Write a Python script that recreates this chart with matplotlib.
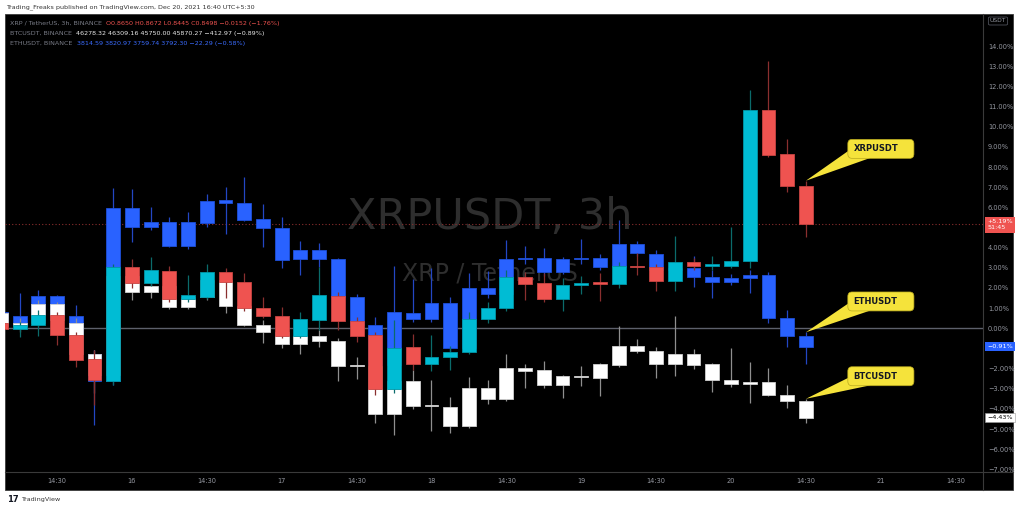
import matplotlib
matplotlib.use('Agg')
import matplotlib.pyplot as plt
from matplotlib.patches import Rectangle, FancyBboxPatch, Polygon
from matplotlib.lines import Line2D
import numpy as np

# Zmiana % od początku wykresu, świece 3h (15 gru 05:30 ... 20 gru 14:30, UTC+5:30)
xrp_open = [0.25, -0.03, 0.16, 0.64, -0.33, -1.54, -2.60, 3.03, 2.23, 2.86, 1.45, 1.57, 2.81, 2.31, 0.99,
            0.63, -0.37, 0.41, 1.60, 0.36, -0.33, -3.03, -0.94, -1.77, -1.41, -1.16, 0.45, 0.99, 2.53, 2.23,
            1.44, 2.15, 2.28, 2.18, 3.09, 3.03, 2.36, 3.27, 3.10, 3.10, 3.34, 10.83, 8.63, 7.06]
xrp_high = [0.35, 0.30, 0.90, 0.80, -0.20, -1.08, 3.20, 3.42, 3.52, 3.09, 2.64, 3.19, 3.00, 2.76, 1.54,
            1.04, 0.82, 3.06, 1.80, 0.58, -0.20, 0.41, -0.30, -0.33, -0.90, 0.80, 1.30, 2.90, 2.80, 2.73,
            2.50, 2.60, 2.73, 3.30, 3.72, 3.20, 4.58, 3.50, 3.59, 5.01, 11.82, 13.26, 9.39, 7.32]
xrp_low = [-0.10, -0.42, -0.37, -0.83, -1.90, -3.80, -2.81, 2.00, 2.10, 1.30, 1.30, 1.45, 1.49, 0.85, 0.50,
           -0.50, -0.50, -0.08, -0.08, -0.66, -3.30, -3.20, -2.07, -2.10, -2.07, -1.30, 0.25, 0.85, 1.40, 1.32,
           0.87, 1.70, 1.37, 2.00, 2.64, 1.87, 1.87, 2.90, 2.90, 3.00, 3.00, 8.51, 6.75, 4.54]
xrp_close = [-0.03, 0.16, 0.64, -0.33, -1.57, -2.56, 3.03, 2.23, 2.89, 1.44, 1.65, 2.81, 2.28, 0.99, 0.61,
             -0.37, 0.45, 1.65, 0.36, -0.37, -3.03, -0.96, -1.79, -1.41, -1.16, 0.45, 0.99, 2.53, 2.20, 1.44,
             2.15, 2.26, 2.18, 3.09, 3.03, 2.36, 3.27, 3.10, 3.12, 3.35, 10.83, 8.60, 7.06, 5.19]

eth_open = [0.82, 0.25, 0.61, 1.60, 0.61, -1.29, -2.62, 5.95, 5.01, 5.29, 4.08, 5.24, 6.36, 6.20, 5.41,
            4.99, 3.44, 3.88, 3.44, 1.57, 0.16, -1.80, 0.77, 0.45, 1.24, -0.99, 1.98, 1.70, 3.42, 3.50,
            2.81, 3.42, 3.47, 3.03, 4.18, 3.69, 2.90, 3.00, 2.56, 2.31, 2.51, 2.64, 0.50, -0.37]
eth_high = [1.00, 1.77, 1.90, 1.65, 1.16, -1.10, 6.94, 6.90, 6.03, 5.54, 5.78, 6.66, 6.99, 7.49, 6.17,
            5.54, 4.35, 4.25, 3.47, 1.70, 0.58, 3.09, 2.43, 2.98, 1.54, 2.73, 2.86, 4.38, 4.08, 3.97,
            3.55, 4.43, 3.69, 5.37, 4.35, 3.88, 3.20, 3.59, 2.90, 2.70, 2.90, 2.80, 0.91, -0.20]
eth_low = [0.10, 0.00, 0.40, 0.50, -1.50, -4.80, -2.80, 4.30, 4.88, 4.05, 3.93, 5.01, 4.68, 5.30, 4.02,
           2.98, 2.64, 3.06, 1.40, 0.00, -2.20, -2.00, 0.30, 0.30, -1.30, -1.10, 1.50, 1.60, 3.20, 2.60,
           2.70, 3.20, 2.90, 2.90, 3.60, 2.70, 2.50, 2.03, 1.49, 2.15, 1.74, 0.28, -0.91, -1.77]
eth_close = [0.25, 0.61, 1.60, 0.61, -1.29, -2.62, 5.95, 5.01, 5.29, 4.08, 5.29, 6.31, 6.20, 5.37, 4.96,
             3.39, 3.88, 3.44, 1.57, 0.16, -1.80, 0.82, 0.45, 1.24, -0.99, 1.98, 1.70, 3.42, 3.50, 2.81,
             3.42, 3.47, 3.03, 4.18, 3.72, 2.90, 3.00, 2.53, 2.31, 2.51, 2.64, 0.50, -0.37, -0.91]

btc_open = [0.74, 0.10, 0.25, 1.21, 0.28, -1.29, -2.30, 2.60, 1.79, 2.11, 1.04, 1.54, 2.40, 1.11, 0.16,
            -0.17, -0.78, -0.38, -0.63, -1.85, -1.87, -4.27, -2.60, -3.84, -3.92, -4.83, -2.98, -3.51, -1.95, -2.07,
            -2.81, -2.37, -2.45, -1.82, -0.86, -1.11, -1.77, -1.27, -1.79, -2.56, -2.78, -2.65, -3.31, -3.61]
btc_high = [0.90, 0.50, 1.40, 1.30, 0.50, -1.08, 2.80, 2.90, 2.50, 2.40, 1.60, 2.70, 2.60, 1.30, 0.40,
            0.10, -0.20, -0.08, -0.50, -1.44, -1.70, -2.30, -2.07, -2.56, -3.39, -2.40, -2.56, -1.27, -1.77, -1.61,
            -2.32, -1.87, -1.70, 0.13, -0.53, -0.91, 0.61, -1.04, -1.70, -0.96, -1.69, -1.98, -2.81, -3.50]
btc_low = [-0.10, -0.20, 0.10, 0.20, -1.40, -3.20, -2.50, 1.40, 1.52, 0.95, 0.95, 1.40, 0.77, 0.11, -0.71,
           -0.99, -1.27, -0.91, -2.60, -2.53, -4.71, -5.29, -4.00, -5.08, -5.21, -4.95, -3.77, -3.60, -2.98, -2.98,
           -3.47, -2.85, -3.34, -1.90, -1.21, -2.48, -2.35, -2.03, -3.14, -2.90, -3.72, -3.34, -3.97, -4.68]
btc_close = [0.10, 0.25, 1.21, 0.40, -1.29, -2.30, 2.60, 1.79, 2.11, 1.04, 1.54, 2.40, 1.11, 0.16, -0.17,
             -0.78, -0.40, -0.62, -1.85, -1.87, -4.27, -2.60, -3.84, -3.86, -4.83, -2.98, -3.51, -1.95, -2.10, -2.81,
             -2.37, -2.43, -1.79, -0.86, -1.11, -1.77, -1.27, -1.82, -2.56, -2.78, -2.65, -3.31, -3.61, -4.43]

tick_bars = [3, 7, 11, 15, 19, 23, 27, 31, 35, 39, 43, 47, 51]
tick_labels = ['14:30', '16', '14:30', '17', '14:30', '18', '14:30', '19', '14:30', '20', '14:30', '21', '14:30']
y_ticks = list(range(-7, 15))

# Kolory w stylu TradingView
XRP_UP = '#00bcd4'
XRP_DOWN = '#ef5350'
ETH_COL = '#2962ff'
BTC_COL = '#ffffff'
AXIS_TXT = '#9598a1'
YELLOW = '#f5e33b'

W, H = 1024, 508


def fx(px):
    return px / W


def fy(py):
    return 1 - py / H


def minus(s):
    return s.replace('-', '\u2212')


def draw_candles(ax, o, h, l, c, up, down, wick_up, wick_down, edge_up, edge_down, z):
    o = np.array(o); h = np.array(h); l = np.array(l); c = np.array(c)
    x = np.arange(len(o))
    rising = c >= o
    body_col = [up if r else down for r in rising]
    wick_col = [wick_up if r else wick_down for r in rising]
    edge_col = [edge_up if r else edge_down for r in rising]
    ax.vlines(x, l, h, colors=wick_col, linewidth=0.9, zorder=z)
    bottom = np.minimum(o, c)
    height = np.maximum(np.abs(c - o), 0.07)
    ax.bar(x, height, bottom=bottom, width=0.74, color=body_col, edgecolor=edge_col,
           linewidth=0.6, zorder=z + 0.1)


fig = plt.figure(figsize=(10.24, 5.08), dpi=100)
fig.patch.set_facecolor('white')

# czarne tło wykresu
fig.add_artist(Rectangle((fx(5), fy(490)), (1013 - 5) / W, (490 - 14) / H,
                         transform=fig.transFigure, facecolor='black', edgecolor='#3a3a3a',
                         linewidth=0.6, zorder=0))

ax = fig.add_axes([fx(5), fy(472), (983 - 5) / W, (472 - 14) / H])
ax.set_facecolor('black')
ax.patch.set_alpha(0)
for sp in ax.spines.values():
    sp.set_visible(False)

ax.set_xlim(0.22, 52.46)
ax.set_ylim(-7.13, 15.59)

# znak wodny
ax.text(0.496, 0.557, 'XRPUSDT, 3h', transform=ax.transAxes, ha='center', va='center',
        fontsize=31, color='#2e2e2e', zorder=0.5)
ax.text(0.496, 0.434, 'XRP / TetherUS', transform=ax.transAxes, ha='center', va='center',
        fontsize=17, color='#2e2e2e', zorder=0.5)

# linie: zero i ostatnia cena XRP
ax.axhline(0, color='#5d606b', linewidth=1.0, zorder=0.6)
ax.axhline(xrp_close[-1], color='#8b2e2e', linewidth=0.8, linestyle=(0, (1, 2)), zorder=0.6)

draw_candles(ax, eth_open, eth_high, eth_low, eth_close, ETH_COL, ETH_COL,
             '#2347c4', '#2347c4', '#1e4fd8', '#1e4fd8', 1)
draw_candles(ax, btc_open, btc_high, btc_low, btc_close, BTC_COL, BTC_COL,
             '#8f8f8f', '#8f8f8f', '#d0d0d0', '#d0d0d0', 2)
draw_candles(ax, xrp_open, xrp_high, xrp_low, xrp_close, XRP_UP, XRP_DOWN,
             '#0b6b6b', '#8a2f2f', '#0097a7', '#c94442', 3)

# osie (etykiety zasłonięte przez znaczniki cen są puste, jak w oryginale)
last_prices = [xrp_close[-1], eth_close[-1]]
ax.set_xticks(tick_bars)
ax.set_xticklabels(tick_labels)
ax.yaxis.tick_right()
ax.set_yticks(y_ticks)
ax.set_yticklabels(['' if min(abs(v - p) for p in last_prices) < 0.5 else minus(f'{v:.2f}%')
                    for v in y_ticks])
ax.tick_params(axis='both', length=0, labelsize=4.8, labelcolor=AXIS_TXT)
ax.tick_params(axis='x', pad=4.5)
ax.tick_params(axis='y', pad=3.5)

fig.add_artist(Line2D([fx(5), fx(1013)], [fy(472), fy(472)], transform=fig.transFigure,
                      color='#3a3a3a', linewidth=0.8))
fig.add_artist(Line2D([fx(983), fx(983)], [fy(14), fy(490)], transform=fig.transFigure,
                      color='#3a3a3a', linewidth=0.8))

# etykiety cen na osi
last = len(xrp_close) - 1
ax.annotate(minus(f'{xrp_close[-1]:+.2f}%') + '\n51:45', xy=(1, xrp_close[-1]),
            xycoords=('axes fraction', 'data'), xytext=(3.2, 3.2), textcoords='offset points',
            ha='left', va='top', fontsize=4.6, color='white', linespacing=1.3,
            bbox=dict(boxstyle='square,pad=0.35', fc=XRP_DOWN, ec='none'), annotation_clip=False)
ax.annotate(minus(f'{eth_close[-1]:.2f}%'), xy=(1, eth_close[-1]),
            xycoords=('axes fraction', 'data'), xytext=(3.2, 0), textcoords='offset points',
            ha='left', va='center', fontsize=4.6, color='white',
            bbox=dict(boxstyle='square,pad=0.35', fc=ETH_COL, ec='none'), annotation_clip=False)
ax.annotate(minus(f'{btc_close[-1]:.2f}%'), xy=(1, btc_close[-1]),
            xycoords=('axes fraction', 'data'), xytext=(3.2, 0), textcoords='offset points',
            ha='left', va='center', fontsize=4.6, color='black',
            bbox=dict(boxstyle='square,pad=0.35', fc='white', ec='#999999', lw=0.4), annotation_clip=False)

fig.text(fx(998), fy(21), 'USDT', ha='center', va='center', fontsize=4.3, color=AXIS_TXT,
         bbox=dict(boxstyle='round,pad=0.25', fc='black', ec='#5d606b', lw=0.5))

# żółte dymki z nazwami
callouts = [('XRPUSDT', xrp_high, 1.11), ('ETHUSDT', eth_high, 1.06), ('BTCUSDT', btc_high, 0.65)]
for name, highs, dy in callouts:
    tip_x, tip_y = last, highs[-1]
    bx, by = last + 2.24, highs[-1] + dy
    bw, bh = 3.53, 0.94
    ax.add_patch(Polygon([(tip_x, tip_y), (bx + 0.15, by + 0.45), (bx + 1.2, by + 0.02)],
                         closed=True, facecolor=YELLOW, edgecolor='none', zorder=5))
    ax.add_patch(FancyBboxPatch((bx, by), bw, bh, boxstyle='round,pad=0,rounding_size=0.22',
                                facecolor=YELLOW, edgecolor='#b8a81e', linewidth=0.5, zorder=5.1))
    ax.text(bx + 0.3, by + bh / 2, name, ha='left', va='center', fontsize=6, fontweight='bold',
            color='#131722', zorder=5.2)

# nagłówek i legenda
fig.text(fx(6), fy(7), 'Trading_Freaks published on TradingView.com, Dec 20, 2021 16:40 UTC+5:30',
         ha='left', va='center', fontsize=4.6, color='#333333')

legend_rows = [
    ('XRP / TetherUS, 3h, BINANCE', minus('O0.8650 H0.8672 L0.8445 C0.8498 -0.0152 (-1.76%)'), XRP_DOWN, 23),
    ('BTCUSDT, BINANCE', minus('46278.32 46309.16 45750.00 45870.27 -412.97 (-0.89%)'), '#e8e8e8', 33),
    ('ETHUSDT, BINANCE', minus('3814.59 3820.97 3759.74 3792.30 -22.29 (-0.58%)'), '#3b6cff', 43),
]
for label, values, col, row_y in legend_rows:
    t = fig.text(fx(10), fy(row_y), label, ha='left', va='center', fontsize=4.6, color='#787b86')
    ax.annotate(values, xy=(1, 0.5), xycoords=t, xytext=(3, 0), textcoords='offset points',
                ha='left', va='center', fontsize=4.6, color=col, annotation_clip=False)

# logo na dole
logo = fig.text(fx(7), fy(500), '17', ha='left', va='center', fontsize=6, fontweight='bold', color='#131722')
ax.annotate('TradingView', xy=(1, 0.5), xycoords=logo, xytext=(2, 0), textcoords='offset points',
            ha='left', va='center', fontsize=4.6, color='#333333', annotation_clip=False)

plt.savefig('out.png', dpi=100, facecolor='white')
plt.close()
